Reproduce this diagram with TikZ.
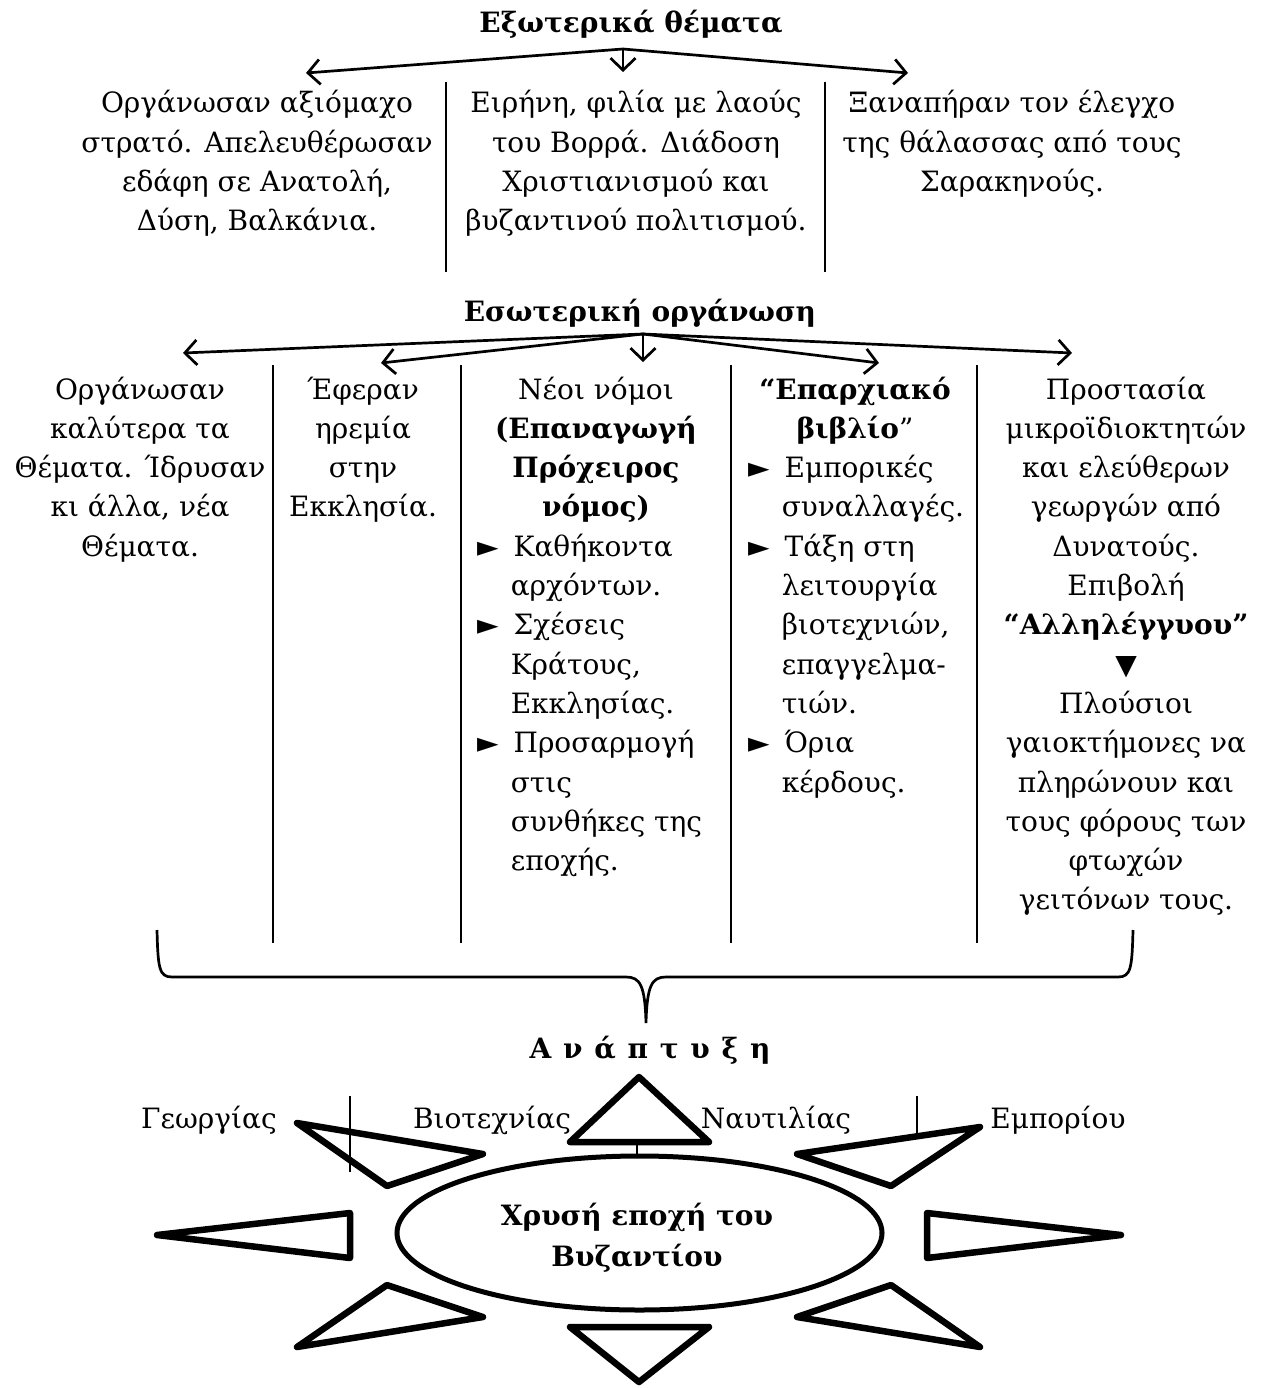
\documentclass[tikz,border=0pt]{standalone}
\usepackage{fontspec}
\setmainfont{DejaVu Serif}
\newfontfamily\symf{DejaVu Sans}
\usetikzlibrary{arrows.meta,shapes.geometric}
\newcommand{\mybul}{\makebox[1.3em][l]{\symf ►}}
\newcommand{\myind}{\hspace*{1.2em}}
\newcommand{\lsp}{\hspace{0.42em}}
\begin{document}
\begin{tikzpicture}[x=1pt,y=-1pt,
  txt/.style={font=\fontsize{28}{39.3}\selectfont, inner sep=0pt},
  hd/.style={font=\fontsize{28}{39.3}\selectfont\bfseries, inner sep=0pt},
  sepline/.style={line width=2.2pt},
  arr/.style={line width=2.7pt, -{Straight Barb[length=12pt,width=25pt]}},
  ray/.style={line width=6.5pt, line join=round},
  bracestyle/.style={line width=2.7pt},
  ]
\useasboundingbox[fill=white] (0,0) rectangle (1265,1388);

% ---------- External ----------
\node[hd, anchor=base] (t1) at (631,33) {Εξωτερικά θέματα};
\coordinate (a1) at (623,49);
\coordinate (a1l) at (306,73);
\coordinate (a1m) at (623,72);
\coordinate (a1r) at (908,73);
\draw[arr] (a1) -- (a1l);
\draw[arr] (a1) -- (a1m);
\draw[arr] (a1) -- (a1r);

\node[txt, anchor=base] (e1) at (257,113) {\begin{tabular}[t]{@{}c@{}}Οργάνωσαν αξιόμαχο\\στρατό. Απελευθέρωσαν\\εδάφη σε Ανατολή,\\Δύση, Βαλκάνια.\end{tabular}};
\node[txt, anchor=base] (e2) at (636,113) {\begin{tabular}[t]{@{}c@{}}Ειρήνη, φιλία με λαούς\\του Βορρά. Διάδοση\\Χριστιανισμού και\\βυζαντινού πολιτισμού.\end{tabular}};
\node[txt, anchor=base] (e3) at (1012,113) {\begin{tabular}[t]{@{}c@{}}Ξαναπήραν τον έλεγχο\\της θάλασσας από τους\\Σαρακηνούς.\end{tabular}};
\draw[sepline] (446,82) -- (446,272);
\draw[sepline] (825,82) -- (825,272);

% ---------- Internal ----------
\node[hd, anchor=base] (t2) at (640,321) {Εσωτερική οργάνωση};
\coordinate (a2) at (643,334);
\coordinate (a2a) at (183,353);
\coordinate (a2b) at (381,363);
\coordinate (a2c) at (643,362);
\coordinate (a2d) at (879,363);
\coordinate (a2e) at (1072,353);
\foreach \t in {a2a,a2b,a2c,a2d,a2e} \draw[arr] (a2) -- (\t);

\foreach \x in {273,461,731,977} \draw[sepline] (\x,365) -- (\x,943);

\node[txt, anchor=base] (i1) at (140,399) {\begin{tabular}[t]{@{}c@{}}Οργάνωσαν\\καλύτερα τα\\Θέματα. Ίδρυσαν\\κι άλλα, νέα\\Θέματα.\end{tabular}};
\node[txt, anchor=base] (i2) at (363,399) {\begin{tabular}[t]{@{}c@{}}Έφεραν\\ηρεμία\\στην\\Εκκλησία.\end{tabular}};
\node[txt, anchor=base] (i3h) at (596,399) {\begin{tabular}[t]{@{}c@{}}Νέοι νόμοι\\\bfseries(Επαναγωγή\\\bfseries Πρόχειρος\\\bfseries νόμος)\end{tabular}};
\node[txt, anchor=base west] (i3l) at (477,556.2) {\begin{tabular}[t]{@{}l@{}}\mybul Καθήκοντα\\\myind αρχόντων.\\\mybul Σχέσεις\\\myind Κράτους,\\\myind Εκκλησίας.\\\mybul Προσαρμογή\\\myind στις\\\myind συνθήκες της\\\myind εποχής.\end{tabular}};
\node[txt, anchor=base] (i4h) at (855,399) {\begin{tabular}[t]{@{}c@{}}\bfseries “Επαρχιακό\\\textbf{βιβλίο}”\end{tabular}};
\node[txt, anchor=base west] (i4l) at (748,477.6) {\begin{tabular}[t]{@{}l@{}}\mybul Εμπορικές\\\myind συναλλαγές.\\\mybul Τάξη στη\\\myind λειτουργία\\\myind βιοτεχνιών,\\\myind επαγγελμα-\\\myind τιών.\\\mybul Όρια\\\myind κέρδους.\end{tabular}};
\node[txt, anchor=base] (i5) at (1126,399) {\begin{tabular}[t]{@{}c@{}}Προστασία\\μικροϊδιοκτητών\\και ελεύθερων\\γεωργών από\\Δυνατούς.\\Επιβολή\\\textbf{“Αλληλέγγυου”}\\{\symf ▼}\\Πλούσιοι\\γαιοκτήμονες να\\πληρώνουν και\\τους φόρους των\\φτωχών\\γειτόνων τους.\end{tabular}};

% ---------- Brace ----------
\draw[bracestyle] (157,930) .. controls (158,968) and (159,977) .. (172,977)
  -- (626,977) .. controls (640,977) and (645,985) .. (646,1023)
  .. controls (647,985) and (652,977) .. (666,977)
  -- (1118,977) .. controls (1131,977) and (1132,968) .. (1133,930);

\node[hd, anchor=base] (dev) at (650,1058) {Α\lsp ν\lsp ά\lsp π\lsp τ\lsp υ\lsp ξ\lsp η};

% ---------- Sun ----------
\node[txt, anchor=base] (s1) at (209,1128) {Γεωργίας};
\node[txt, anchor=base] (s2) at (492,1128) {Βιοτεχνίας};
\node[txt, anchor=base] (s3) at (776,1128) {Ναυτιλίας};
\node[txt, anchor=base] (s4) at (1058,1128) {Εμπορίου};
\draw[sepline] (350,1096) -- (350,1172);
\draw[sepline] (917,1096) -- (917,1133);

\node[draw, ellipse, line width=5pt, minimum width=485pt, minimum height=154pt, inner sep=0pt] (ell) at (639.5,1233) {};
\node[hd, align=center, font=\fontsize{28}{41}\selectfont\bfseries] (gold) at (637,1238) {Χρυσή εποχή του\\Βυζαντίου};
\coordinate (stemtop) at (637,1142);
\draw[sepline] (stemtop) -- (stemtop |- ell.north);

\draw[ray] (639,1077) -- (709,1142) -- (570,1142) -- cycle;
\draw[ray] (639,1382) -- (709,1327) -- (570,1327) -- cycle;
\draw[ray] (157,1235) -- (350,1213) -- (350,1258) -- cycle;
\draw[ray] (1121,1235) -- (927,1213) -- (927,1258) -- cycle;
\draw[ray] (297,1123) -- (483,1154) -- (387,1186) -- cycle;
\draw[ray] (980,1127) -- (797,1154) -- (891,1186) -- cycle;
\draw[ray] (387,1285) -- (483,1317) -- (297,1347) -- cycle;
\draw[ray] (891,1285) -- (797,1317) -- (980,1347) -- cycle;
\end{tikzpicture}
\end{document}
